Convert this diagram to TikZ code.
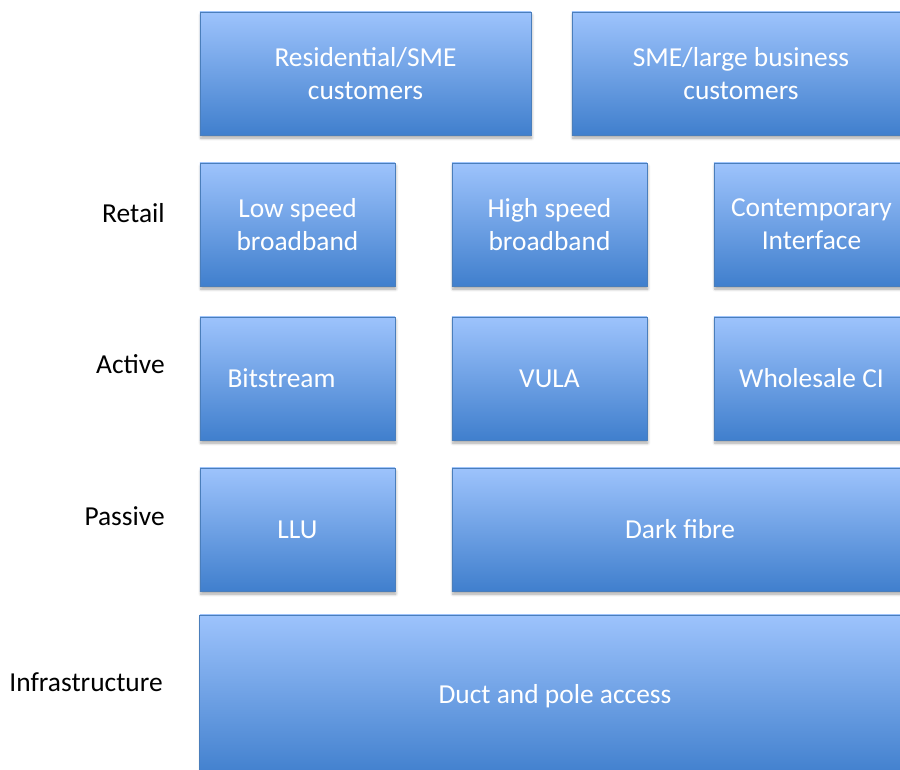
\documentclass[tikz,border=0pt]{standalone}
\usepackage{fontspec}
\setmainfont{Carlito}
\usetikzlibrary{shadows.blur}
\definecolor{tiletop}{RGB}{157,195,252}
\definecolor{tilemid}{RGB}{134,176,240}
\definecolor{tilebottom}{RGB}{64,127,205}
\definecolor{tileedge}{RGB}{74,126,187}

\begin{document}
\begin{tikzpicture}[x=0.025cm,y=-0.025cm,
  tile/.style={draw=tileedge,line width=.6pt,top color=tiletop,middle color=tilemid,bottom color=tilebottom,
    text=white,align=center,inner sep=0pt,minimum width=4.875cm,minimum height=3.075cm,
    font=\fontsize{19.5}{23.5}\selectfont,
    blur shadow={shadow xshift=.6pt,shadow yshift=-2.2pt,shadow blur steps=6,shadow opacity=35}},
  layer/.style={anchor=east,inner sep=0pt,font=\fontsize{19.5}{23.5}\selectfont}]
\clip (0,0) rectangle (900,769);
% customers
\node[tile,minimum width=8.275cm] (res) at (365.5,73.5) {Residential/SME\\customers};
\node[tile,minimum width=8.45cm] (biz) at (741,73.5) {SME/large business\\customers};
% retail
\node[layer] (retail) at (165,213) {Retail};
\node[tile] (lowbb) at (297.5,224.5) {Low speed\\broadband};
\node[tile] (highbb) at (549.5,224.5) {High speed\\broadband};
\node[tile] (cint) at (811.5,224.5) {Contemporary\\Interface};
% active
\node[layer] (active) at (165,364) {Active};
\node[tile] (bits) at (297.5,378.5) {Bitstream\hspace*{.8cm}};
\node[tile] (vula) at (549.5,378.5) {VULA};
\node[tile] (wci) at (811.5,378.5) {Wholesale CI};
% passive
\node[layer] (passive) at (165,516) {Passive};
\node[tile] (llu) at (297.5,529.5) {LLU};
\node[tile,minimum width=11.4cm] (dark) at (680,529.5) {Dark fibre};
% infrastructure
\node[layer] (infra) at (163,682) {Infrastructure};
\node[tile,minimum width=17.75cm,minimum height=4.05cm] (duct) at (555,696) {Duct and pole access};
\end{tikzpicture}
\end{document}
